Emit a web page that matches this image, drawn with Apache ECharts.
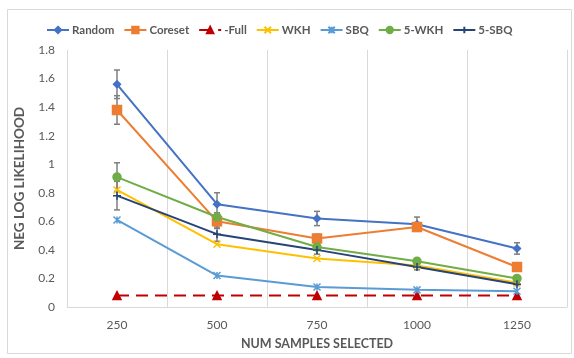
<!DOCTYPE html>
<html>
<head>
<meta charset="utf-8">
<script src="https://cdn.jsdelivr.net/npm/echarts@6/dist/echarts.min.js"></script>
<style>
  html, body { margin: 0; padding: 0; background: #fff; }
  #main { width: 574px; height: 358px; }
</style>
</head>
<body>
<div id="main"></div>
<script>
// values
const samples = ['250', '500', '750', '1000', '1250']
const yTicks = [0, 0.2, 0.4, 0.6, 0.8, 1, 1.2, 1.4, 1.6, 1.8]

const random = [1.56, 0.72, 0.62, 0.58, 0.41]
const coreset = [1.38, 0.60, 0.48, 0.56, 0.28]
const full = [0.08, 0.08, 0.08, 0.08, 0.08]
const wkh = [0.82, 0.44, 0.34, 0.29, 0.17]
const sbq = [0.61, 0.22, 0.14, 0.12, 0.11]
const wkh5 = [0.91, 0.63, 0.42, 0.32, 0.20]
const sbq5 = [0.78, 0.51, 0.40, 0.28, 0.16]

// +/- error bars
const randomErr = [0.10, 0.08, 0.05, 0.05, 0.04]
const coresetErr = [0.10, 0.05, 0.03, 0.02, 0]
const wkh5Err = [0.10, 0.03, 0.02, 0.02, 0]
const sbq5Err = [0.10, 0.05, 0.03, 0.02, 0.01]

const textColor = '#595959'
const font = 'Lato, "Liberation Sans", sans-serif'

function lineSeries(name, data, color, symbol, size, extra) {
  return Object.assign({
    name: name,
    type: 'line',
    data: data,
    symbol: symbol,
    symbolSize: size,
    showAllSymbol: true,
    lineStyle: { color: color, width: 2 },
    itemStyle: { color: color, borderColor: color, borderWidth: 1.5 },
    z: 3,
  }, extra || {})
}

function errSeries(name, data, err) {
  return {
    name: 'err-' + name,
    type: 'custom',
    silent: true,
    z: 2,
    data: data.map((v, i) => [i, v, err[i]]),
    renderItem: function (params, api) {
      const i = api.value(0)
      const v = api.value(1)
      const e = api.value(2)
      if (!e) return null
      const top = api.coord([i, v + e])
      const bot = api.coord([i, v - e])
      const w = 3
      const style = { stroke: '#7f7f7f', lineWidth: 1.5 }
      return {
        type: 'group',
        children: [
          { type: 'line', shape: { x1: top[0], y1: top[1], x2: bot[0], y2: bot[1] }, style: style },
          { type: 'line', shape: { x1: top[0] - w, y1: top[1], x2: top[0] + w, y2: top[1] }, style: style },
          { type: 'line', shape: { x1: bot[0] - w, y1: bot[1], x2: bot[0] + w, y2: bot[1] }, style: style },
        ],
      }
    },
  }
}

const xPath = 'path://M0,0L10,10M10,0L0,10'
const starPath = 'path://M0,0L10,10M10,0L0,10M5,0L5,10'
const plusPath = 'path://M0,5L10,5M5,0L5,10'

const myChart = echarts.init(document.getElementById('main'))
const option = {
  animation: false,
  textStyle: { fontFamily: font },
  graphic: [
    {
      type: 'rect',
      shape: { x: 7.5, y: 9.5, width: 564, height: 344 },
      style: { fill: 'none', stroke: '#d9d9d9', lineWidth: 1 },
      silent: true,
    },
  ],
  legend: {
    top: 19,
    left: 41,
    width: 520,
    itemWidth: 22,
    itemHeight: 8,
    itemGap: 9,
    textStyle: { color: textColor, fontSize: 11.5, fontWeight: 'bold', fontFamily: font, padding: [0, 0, 0, -2] },
    data: ['Random', 'Coreset', '-Full', 'WKH', 'SBQ', '5-WKH', '5-SBQ'],
  },
  grid: { left: 67, right: 7, top: 50, bottom: 51 },
  xAxis: {
    type: 'category',
    data: samples,
    boundaryGap: true,
    name: 'NUM SAMPLES SELECTED',
    nameLocation: 'middle',
    nameGap: 30,
    nameTextStyle: { color: textColor, fontSize: 12.5, fontWeight: 'bold', fontFamily: font },
    axisLine: { lineStyle: { color: '#d9d9d9', width: 1 } },
    axisTick: { show: false },
    axisLabel: { color: textColor, fontSize: 12, margin: 12, fontFamily: font },
    splitLine: { show: true, lineStyle: { color: '#d9d9d9', width: 1 } },
  },
  yAxis: {
    type: 'value',
    min: yTicks[0],
    max: yTicks[yTicks.length - 1],
    interval: 0.2,
    name: 'NEG LOG LIKELIHOOD',
    nameLocation: 'middle',
    nameGap: 40,
    nameTextStyle: { color: textColor, fontSize: 13.5, fontWeight: 'bold', fontFamily: font },
    axisLine: { show: false },
    axisTick: { show: false },
    splitLine: { show: false },
    axisLabel: {
      color: textColor,
      fontSize: 12,
      margin: 12,
      fontFamily: font,
      formatter: (v) => String(+v.toFixed(1)),
    },
  },
  series: [
    errSeries('Random', random, randomErr),
    errSeries('Coreset', coreset, coresetErr),
    errSeries('5-WKH', wkh5, wkh5Err),
    errSeries('5-SBQ', sbq5, sbq5Err),
    lineSeries('Random', random, '#4472C4', 'diamond', 7),
    lineSeries('Coreset', coreset, '#ED7D31', 'rect', 9),
    lineSeries('-Full', full, '#C00000', 'triangle', 8, {
      lineStyle: { color: '#C00000', width: 2, type: [12, 7] },
    }),
    lineSeries('WKH', wkh, '#FFC000', xPath, 7),
    lineSeries('SBQ', sbq, '#5B9BD5', starPath, 7),
    lineSeries('5-WKH', wkh5, '#70AD47', 'circle', 8),
    lineSeries('5-SBQ', sbq5, '#264478', plusPath, 8),
  ],
}
option && myChart.setOption(option)
</script>
</body>
</html>
